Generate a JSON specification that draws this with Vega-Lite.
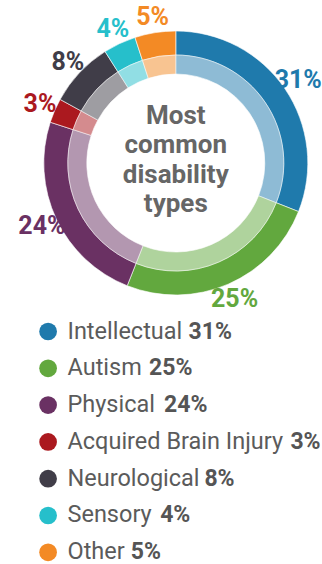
{
  "$schema": "https://vega.github.io/schema/vega-lite/v6.json",
  "padding": {"left": 17.8, "top": 0, "right": 0, "bottom": 0},
  "spacing": 0,
  "bounds": "flush",
  "background": "white",
  "config": {"view": {"stroke": null}, "font": "Roboto"},
  "datasets": {
    "d": [
      {"type": "Intellectual", "share": 0.31, "rank": 1},
      {"type": "Autism", "share": 0.25, "rank": 2},
      {"type": "Physical", "share": 0.24, "rank": 3},
      {"type": "Acquired Brain Injury", "share": 0.03, "rank": 4},
      {"type": "Neurological", "share": 0.08, "rank": 5},
      {"type": "Sensory", "share": 0.04, "rank": 6},
      {"type": "Other", "share": 0.05, "rank": 7}
    ]
  },
  "vconcat": [
    {
      "width": 300,
      "height": 326,
      "data": {"name": "d"},
      "layer": [
        {
          "mark": {"type": "arc", "outerRadius": 132, "innerRadius": 108, "stroke": "white", "strokeWidth": 0.6},
          "encoding": {
            "theta": {"field": "share", "type": "quantitative", "stack": true},
            "order": {"field": "rank", "type": "quantitative"},
            "color": {"field": "type", "type": "nominal", "legend": null,
              "scale": {"domain": ["Intellectual", "Autism", "Physical", "Acquired Brain Injury", "Neurological", "Sensory", "Other"],
                        "range": ["#1f7aac", "#62a83e", "#6a3163", "#ab191f", "#403d48", "#26bfcb", "#f38a25"]}}
          }
        },
        {
          "mark": {"type": "arc", "outerRadius": 108, "innerRadius": 89, "opacity": 0.5, "stroke": "white", "strokeWidth": 0.6},
          "encoding": {
            "theta": {"field": "share", "type": "quantitative", "stack": true},
            "order": {"field": "rank", "type": "quantitative"},
            "color": {"field": "type", "type": "nominal", "legend": null}
          }
        },
        {
          "mark": {"type": "text", "radius": 148, "fontSize": 25, "fontWeight": "bold", "align": "center", "baseline": "middle"},
          "encoding": {
            "theta": {"field": "share", "type": "quantitative", "stack": true},
            "order": {"field": "rank", "type": "quantitative"},
            "color": {"field": "type", "type": "nominal", "legend": null},
            "text": {"field": "share", "type": "quantitative", "format": ".0%"}
          }
        },
        {
          "data": {"values": [{}]},
          "mark": {"type": "text", "text": ["Most", "common", "disability", "types"], "fontSize": 26, "fontWeight": "bold", "color": "#666666", "lineHeight": 29.5, "align": "center", "baseline": "middle", "dy": -47.25},
          "encoding": {}
        }
      ]
    },
    {
      "width": 300,
      "height": 231.8,
      "data": {"name": "d"},
      "transform": [
        {"calculate": "43.5 + 23.6*(0.55*length(datum.type + ' ') - 0.305*length(replace(datum.type + ' ', regexp('[^ilIj ]','g'), '')) - 0.225*length(replace(datum.type, regexp('[^trf]','g'), '')) - 0.04*length(replace(datum.type, regexp('[^ycsekvxz]','g'), '')) + 0.1*length(replace(datum.type, regexp('[^A-HJ-Z]','g'), '')) + 0.305*length(replace(datum.type, regexp('[^m]','g'), '')))", "as": "px"}
      ],
      "encoding": {
        "y": {"field": "type", "type": "nominal", "axis": null,
              "sort": ["Intellectual", "Autism", "Physical", "Acquired Brain Injury", "Neurological", "Sensory", "Other"],
              "scale": {"type": "point", "padding": 0.1495}}
      },
      "layer": [
        {
          "mark": {"type": "point", "filled": true, "shape": "circle", "size": 314, "opacity": 1},
          "encoding": {
            "x": {"datum": 22.3, "type": "quantitative", "scale": {"domain": [0, 300], "nice": false, "zero": false}, "axis": null},
            "color": {"field": "type", "type": "nominal", "legend": null,
              "scale": {"domain": ["Intellectual", "Autism", "Physical", "Acquired Brain Injury", "Neurological", "Sensory", "Other"],
                        "range": ["#1f7aac", "#62a83e", "#6a3163", "#ab191f", "#403d48", "#26bfcb", "#f38a25"]}}
          }
        },
        {
          "mark": {"type": "text", "fontSize": 23.5, "align": "left", "baseline": "middle", "color": "#5b5b5b"},
          "encoding": {
            "x": {"datum": 41.7, "type": "quantitative"},
            "text": {"field": "type", "type": "nominal"}
          }
        },
        {
          "mark": {"type": "text", "fontSize": 23, "fontWeight": "bold", "align": "left", "baseline": "middle", "color": "#555555"},
          "encoding": {
            "x": {"field": "px", "type": "quantitative"},
            "text": {"field": "share", "type": "quantitative", "format": ".0%"}
          }
        }
      ]
    }
  ]
}
